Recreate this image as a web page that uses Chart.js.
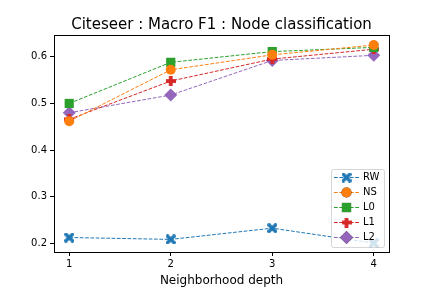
<!DOCTYPE html>
<html><head><meta charset="utf-8">
<script src="https://cdn.jsdelivr.net/npm/chart.js@4/dist/chart.umd.min.js"></script>
<style>html,body{margin:0;padding:0;background:#fff}#wrap{width:432px;height:288px}</style>
</head><body><div id="wrap"><canvas id="c" width="432" height="288"></canvas></div>
<script>
const depths = [1, 2, 3, 4];
const rw = [0.213, 0.209, 0.233, 0.201];
const ns = [0.462, 0.572, 0.604, 0.625];
const l0 = [0.500, 0.588, 0.611, 0.620];
const l1 = [0.466, 0.548, 0.595, 0.616];
const l2 = [0.480, 0.518, 0.592, 0.603];
const seriesNames = ['RW', 'NS', 'L0', 'L1', 'L2'];
const yTicks = [0.2, 0.3, 0.4, 0.5, 0.6];
const titleText = 'Citeseer : Macro F1 : Node classification';
const xLabel = 'Neighborhood depth';

const colors = ['#1f77b4', '#ff7f0e', '#2ca02c', '#d62728', '#9467bd'];

function shapeCanvas(kind, color, size) {
  const c = document.createElement('canvas');
  c.width = size; c.height = size;
  const g = c.getContext('2d');
  g.fillStyle = color;
  const h = size / 2;
  g.translate(h, h);
  if (kind === 'X') {
    const a = size * 0.5, w = size * 0.17;
    g.rotate(Math.PI / 4);
    g.fillRect(-a * 1.25, -w, a * 2.5, 2 * w);
    g.fillRect(-w, -a * 1.25, 2 * w, a * 2.5);
  } else if (kind === 'P') {
    const a = h, w = size * 0.19;
    g.fillRect(-a, -w, 2 * a, 2 * w);
    g.fillRect(-w, -a, 2 * w, 2 * a);
  }
  return c;
}
const xImg = shapeCanvas('X', colors[0], 10);
const pImg = shapeCanvas('P', colors[3], 10);

const styles = [
  {pointStyle: xImg, radius: 5},
  {pointStyle: 'circle', radius: 5},
  {pointStyle: 'rect', radius: 6.5},
  {pointStyle: pImg, radius: 5},
  {pointStyle: 'rectRot', radius: 6.5}
];
const values = [rw, ns, l0, l1, l2];

const datasets = values.map((vals, i) => ({
  label: seriesNames[i],
  data: depths.map((d, j) => ({x: d, y: vals[j]})),
  borderColor: colors[i],
  backgroundColor: colors[i],
  borderWidth: 1,
  borderDash: [3.7, 1.6],
  pointStyle: styles[i].pointStyle,
  pointRadius: styles[i].radius,
  pointBorderWidth: 0,
  pointHoverRadius: styles[i].radius,
  fill: false,
  tension: 0
}));

const decor = {
  id: 'decor',
  afterDraw(chart) {
    const ctx = chart.ctx;
    const a = chart.chartArea;
    ctx.save();
    // frame
    ctx.strokeStyle = '#000';
    ctx.lineWidth = 1;
    ctx.strokeRect(Math.round(a.left) + 0.5, Math.round(a.top) + 0.5, Math.round(a.right - a.left), Math.round(a.bottom - a.top));
    // title
    ctx.fillStyle = '#000';
    ctx.font = '15px "DejaVu Sans"';
    ctx.textAlign = 'center';
    ctx.textBaseline = 'alphabetic';
    ctx.fillText(titleText, (a.left + a.right) / 2, 29);
    // xlabel
    ctx.font = '12px "DejaVu Sans"';
    ctx.fillText(xLabel, (a.left + a.right) / 2, 284);
    // legend
    const bx = 331, by = 169, bw = 53, bh = 78;
    ctx.beginPath();
    if (ctx.roundRect) ctx.roundRect(bx + 0.5, by + 0.5, bw, bh, 2); else ctx.rect(bx + 0.5, by + 0.5, bw, bh);
    ctx.fillStyle = 'rgba(255,255,255,0.8)';
    ctx.fill();
    ctx.strokeStyle = 'rgba(204,204,204,0.8)';
    ctx.stroke();
    chart.data.datasets.forEach((ds, i) => {
      const y = 177.5 + i * 15;
      ctx.strokeStyle = ds.borderColor;
      ctx.lineWidth = 1;
      ctx.setLineDash([3.7, 1.6]);
      ctx.beginPath();
      ctx.moveTo(334, y); ctx.lineTo(359, y); ctx.stroke();
      ctx.setLineDash([]);
      Chart.helpers.drawPoint(ctx, {pointStyle: ds.pointStyle, radius: ds.pointRadius, borderWidth: 0, rotation: 0}, 346.5, y);
      ctx.fillStyle = ds.backgroundColor;
      ctx.fill();
      ctx.fillStyle = '#000';
      ctx.font = '10px "DejaVu Sans"';
      ctx.textAlign = 'left';
      ctx.textBaseline = 'middle';
      ctx.fillText(ds.label, 363, y);
    });
    ctx.restore();
  }
};

new Chart(document.getElementById('c'), {
  type: 'line',
  data: {datasets},
  plugins: [decor],
  options: {
    responsive: false,
    animation: false,
    devicePixelRatio: 1,
    layout: {padding: {top: 35, right: 43, left: 0, bottom: 0}},
    plugins: {legend: {display: false}, title: {display: false}, tooltip: {enabled: false}},
    scales: {
      x: {
        type: 'linear', min: 0.85, max: 4.15,
        afterBuildTicks: s => { s.ticks = depths.map(v => ({value: v})); },
        afterFit: s => { s.height = 36; },
        ticks: {color: '#000', font: {family: 'DejaVu Sans', size: 10}, padding: 2, maxRotation: 0, callback: v => String(v)},
        grid: {drawOnChartArea: false, drawTicks: true, tickLength: 4, color: '#000'},
        border: {display: false}
      },
      y: {
        type: 'linear', min: 0.182, max: 0.6465,
        afterBuildTicks: s => { s.ticks = yTicks.map(v => ({value: v})); },
        afterFit: s => { s.width = 54; },
        ticks: {color: '#000', font: {family: 'DejaVu Sans', size: 10}, padding: 3, callback: v => v.toFixed(1)},
        grid: {drawOnChartArea: false, drawTicks: true, tickLength: 4, color: '#000'},
        border: {display: false}
      }
    }
  }
});
</script>
</body></html>
